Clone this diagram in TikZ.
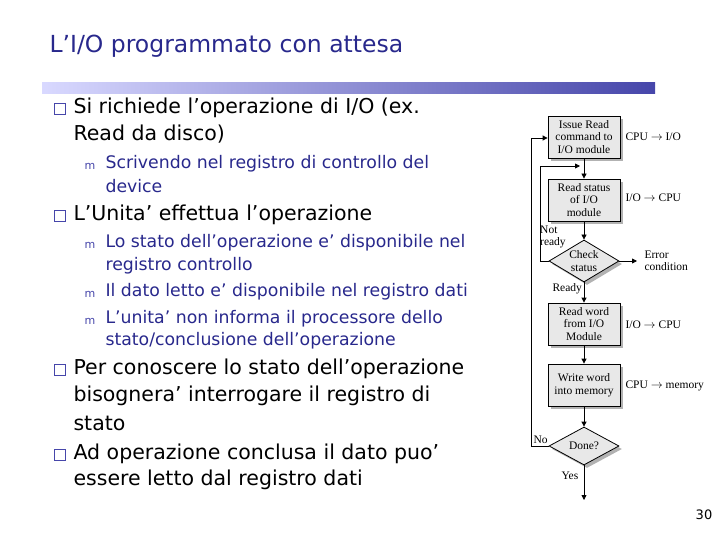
\documentclass[tikz,border=0pt]{standalone}
\usepackage{fontspec}
\setmainfont{DejaVu Sans}
\newfontfamily\fser{Liberation Serif}
\usetikzlibrary{shapes.geometric,arrows.meta,shadows}
\definecolor{tblue}{RGB}{40,40,140}
\definecolor{bblue}{RGB}{70,70,170}
\begin{document}
\begin{tikzpicture}[x=1pt,y=-1pt,
  fbox/.style={draw,thick,fill=gray!18,minimum width=72pt,minimum height=42pt,inner sep=1pt,align=center,font=\fser\fontsize{11.5}{12.5}\selectfont,drop shadow={shadow xshift=3pt,shadow yshift=-3pt,fill=gray!60,opacity=1}},
  fdia/.style={draw,thick,fill=gray!18,diamond,aspect=1.7,inner sep=0pt,minimum width=70pt,minimum height=42pt,font=\fser\fontsize{11.5}{12.5}\selectfont,align=center,drop shadow={shadow xshift=3pt,shadow yshift=-3pt,fill=gray!60,opacity=1}},
  side/.style={anchor=west,font=\fser\fontsize{11.5}{12.5}\selectfont},
  lab/.style={font=\fser\fontsize{11.5}{12.5}\selectfont,align=left},
  arr/.style={thick,-{Triangle[length=5pt,width=5pt]}},
  main/.style={anchor=west,font=\fontsize{20.5}{24}\selectfont,text=black},
  sub/.style={anchor=west,font=\fontsize{17.3}{20}\selectfont,text=tblue},
  sq/.style={draw=bblue,fill=white,line width=1.4pt,minimum size=11pt,inner sep=0pt},
  mm/.style={font=\fontsize{11}{12}\selectfont,text=bblue}]
\useasboundingbox (0,0) rectangle (720,540);
\node[anchor=west,text=tblue,font=\fontsize{23.5}{27}\selectfont] (title) at (46,46) {L’I/O programmato con attesa};
\shade[left color=blue!15,right color=bblue] (42,83) rectangle (655,94);
% text
\node[sq] (b1) at (60,109) {};
\node[main] (t1) at (70,108) {Si richiede l’operazione di I/O (ex.};
\node[main] (t1b) at (70,134) {Read da disco)};
\node[mm] (m1) at (90,166) {m};
\node[sub] (s1) at (102,164) {Scrivendo nel registro di controllo del};
\node[sub] (s1b) at (102,186) {device};
\node[sq] (b2) at (60,216) {};
\node[main] (t2) at (70,215) {L’Unita’ effettua l’operazione};
\node[mm] (m2) at (90,245) {m};
\node[sub] (s2) at (102,243) {Lo stato dell’operazione e’ disponibile nel};
\node[sub] (s2b) at (102,266) {registro controllo};
\node[mm] (m3) at (90,294) {m};
\node[sub] (s3) at (102,292) {Il dato letto e’ disponibile nel registro dati};
\node[mm] (m4) at (90,321) {m};
\node[sub] (s4) at (102,319) {L’unita’ non informa il processore dello};
\node[sub] (s4b) at (102,341) {stato/conclusione dell’operazione};
\node[sq] (b3) at (60,370) {};
\node[main] (t3) at (70,369) {Per conoscere lo stato dell’operazione};
\node[main] (t3b) at (70,396) {bisognera’ interrogare il registro di};
\node[main] (t3c) at (70,423) {stato};
\node[sq] (b4) at (60,455) {};
\node[main] (t4) at (70,454) {Ad operazione conclusa il dato puo’};
\node[main] (t4b) at (70,480) {essere letto dal registro dati};
\node[font=\fontsize{13}{15}\selectfont] (pg) at (704,515) {30};
% flowchart
\node[fbox] (f1) at (584,137) {Issue Read\\command to\\I/O module};
\node[fbox] (f2) at (584,200) {Read status\\of I/O\\module};
\node[fdia] (c1) at (584,261) {Check\\status};
\node[fbox] (f3) at (584,324) {Read word\\from I/O\\Module};
\node[fbox] (f4) at (584,385) {Write word\\into memory};
\node[fdia,minimum height=38pt] (c2) at (584,446) {Done?};
\coordinate (end) at (584,500);
\coordinate (err) at (637,261);
\coordinate (nr1) at (540,261);
\coordinate (nr2) at (540,166);
\coordinate (nr3) at (580,166);
\coordinate (no1) at (531,446);
\coordinate (no2) at (531,138);
\draw[arr] (f1) -- (f2);
\draw[arr] (f2) -- (c1);
\draw[arr] (c1) -- (f3);
\draw[arr] (f3) -- (f4);
\draw[arr] (f4) -- (c2);
\draw[arr] (c2) -- (end);
\draw[arr] (c1.east) -- (err);
\draw[arr] (c1.west) -- (nr1) -- (nr2) -- (nr3);
\draw[arr] (c2.west) -- (no1) -- (no2) -- (f1.west |- no2);
\node[lab,anchor=west] (ec) at (641,261) {Error\\condition};
\node[side] (l1) at (622,137) {CPU $\rightarrow$ I/O};
\node[side] (l2) at (622,198) {I/O $\rightarrow$ CPU};
\node[side] (l3) at (622,325) {I/O $\rightarrow$ CPU};
\node[side] (l4) at (622,386) {CPU $\rightarrow$ memory};
\node[lab,anchor=west,inner sep=1pt] (lnr) at (539,237) {Not\\ready};
\node[lab,anchor=west] (lre) at (549,289) {Ready};
\node[lab,anchor=west] (lno) at (530,440) {No};
\node[lab,anchor=west] (lye) at (558,476) {Yes};
\end{tikzpicture}
\end{document}
